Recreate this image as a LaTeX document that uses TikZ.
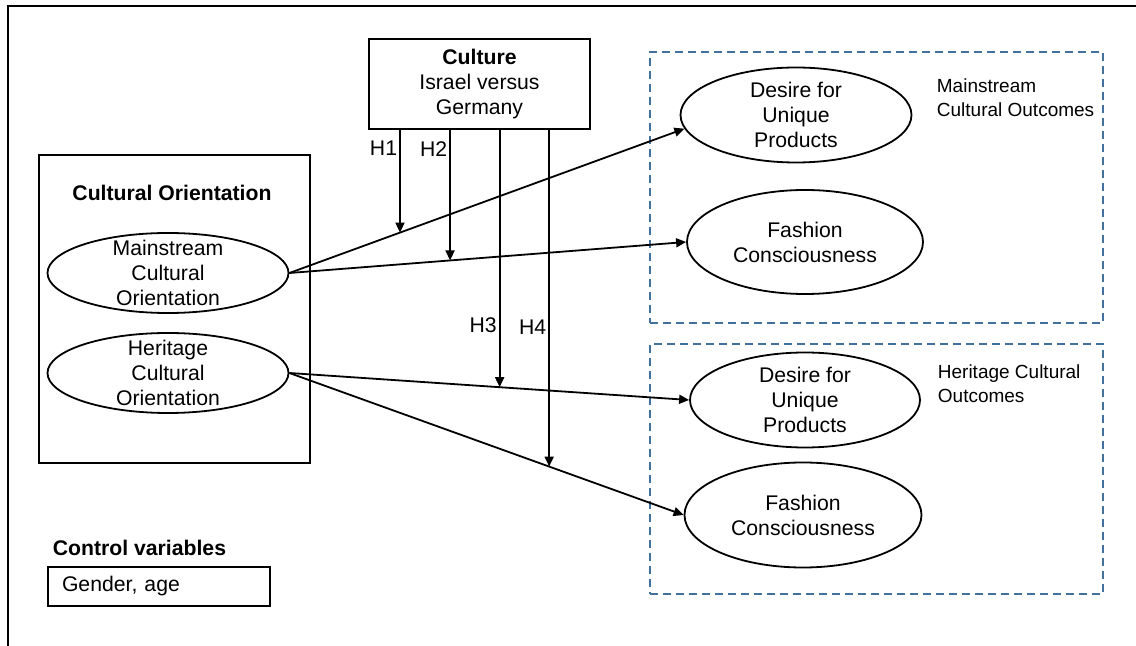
\documentclass[tikz,border=0pt]{standalone}
\usepackage{fontspec}
\setmainfont{Liberation Sans}
\usetikzlibrary{shapes.geometric,arrows.meta}
\definecolor{grpblue}{HTML}{41719C}

\begin{document}
\begin{tikzpicture}[x=0.5pt,y=-0.5pt,
  font=\fontsize{10.6}{12.5}\selectfont, line width=0.9pt,
  oval/.style={ellipse, draw, inner sep=0pt},
  ovtxt/.style={align=center, inner sep=0pt},
  box/.style={rectangle, draw, inner sep=0pt},
  grp/.style={rectangle, draw=grpblue, dash pattern=on 4pt off 2.5pt, line width=0.75pt, inner sep=0pt},
  grplab/.style={anchor=west, align=left, inner sep=0pt, font=\fontsize{9.5}{12}\selectfont},
  arr/.style={-{Triangle[length=5pt,width=4.5pt]}},
  hlab/.style={left, inner sep=1pt}]
  \useasboundingbox (0,0) rectangle (1136,646);
  \draw[line width=1pt] (8,646) -- (8,6) -- (1136,6);

  \node[grp, minimum width=226.5pt, minimum height=135.5pt] (mgrp) at (876.5,187.5) {};
  \node[grp, minimum width=226.5pt, minimum height=125pt] (hgrp) at (876.5,469) {};
  \node[grplab] (mlab) at (936,98) {Mainstream\\Cultural Outcomes};
  \node[grplab] (hlab) at (937,384) {Heritage Cultural\\Outcomes};

  \node[box, minimum width=110.5pt, minimum height=45pt, align=center] (cul) at (479.5,84)
    {\textbf{Culture}\\Israel versus\\Germany};
  \node[box, minimum width=135.5pt, minimum height=154pt] (cobox) at (174.5,309) {};
  \node[inner sep=0pt] (cotitle) at (172,193) {\textbf{Cultural Orientation}};

  \node[oval, minimum width=120.5pt, minimum height=40pt,
    label={[ovtxt]center:Mainstream\\Cultural\\Orientation}] (ms) at (168,273) {};
  \node[oval, minimum width=120.5pt, minimum height=40pt,
    label={[ovtxt]center:Heritage\\Cultural\\Orientation}] (hr) at (168,373) {};

  \node[oval, minimum width=115.5pt, minimum height=47.5pt,
    label={[ovtxt]center:Desire for\\Unique\\Products}] (dupm) at (796,115) {};
  \node[oval, minimum width=118pt, minimum height=52pt,
    label={[ovtxt]center:Fashion\\Consciousness}] (fcm) at (805,242) {};
  \node[oval, minimum width=115pt, minimum height=47.5pt,
    label={[ovtxt]center:Desire for\\Unique\\Products}] (duph) at (805,400) {};
  \node[oval, minimum width=118.5pt, minimum height=52.5pt,
    label={[ovtxt]center:Fashion\\Consciousness}] (fch) at (803,515) {};

  \draw[arr] (ms.east) -- coordinate[pos=0.28] (h1) (dupm.187);
  \draw[arr] (ms.east) -- coordinate[pos=0.405] (h2) (fcm.west);
  \draw[arr] (hr.east) -- coordinate[pos=0.526] (h3) (duph.west);
  \draw[arr] (hr.east) -- coordinate[pos=0.659] (h4) (fch.west);

  \draw[arr] (h1 |- cul.south) -- node[hlab, pos=0.18] (lh1) {H1} (h1);
  \draw[arr] (h2 |- cul.south) -- node[hlab, pos=0.144] (lh2) {H2} (h2);
  \draw[arr] (h3 |- cul.south) -- node[hlab, pos=0.76] (lh3) {H3} (h3);
  \draw[arr] (h4 |- cul.south) -- node[hlab, pos=0.585] (lh4) {H4} (h4);

  \node[anchor=west, inner sep=0pt] (ctl) at (52,548) {\textbf{Control variables}};
  \node[box, minimum width=111pt, minimum height=19.5pt, text width=97pt, inner xsep=7pt, align=left] (ctlbox) at (159,586.5) {Gender, age};
\end{tikzpicture}
\end{document}
